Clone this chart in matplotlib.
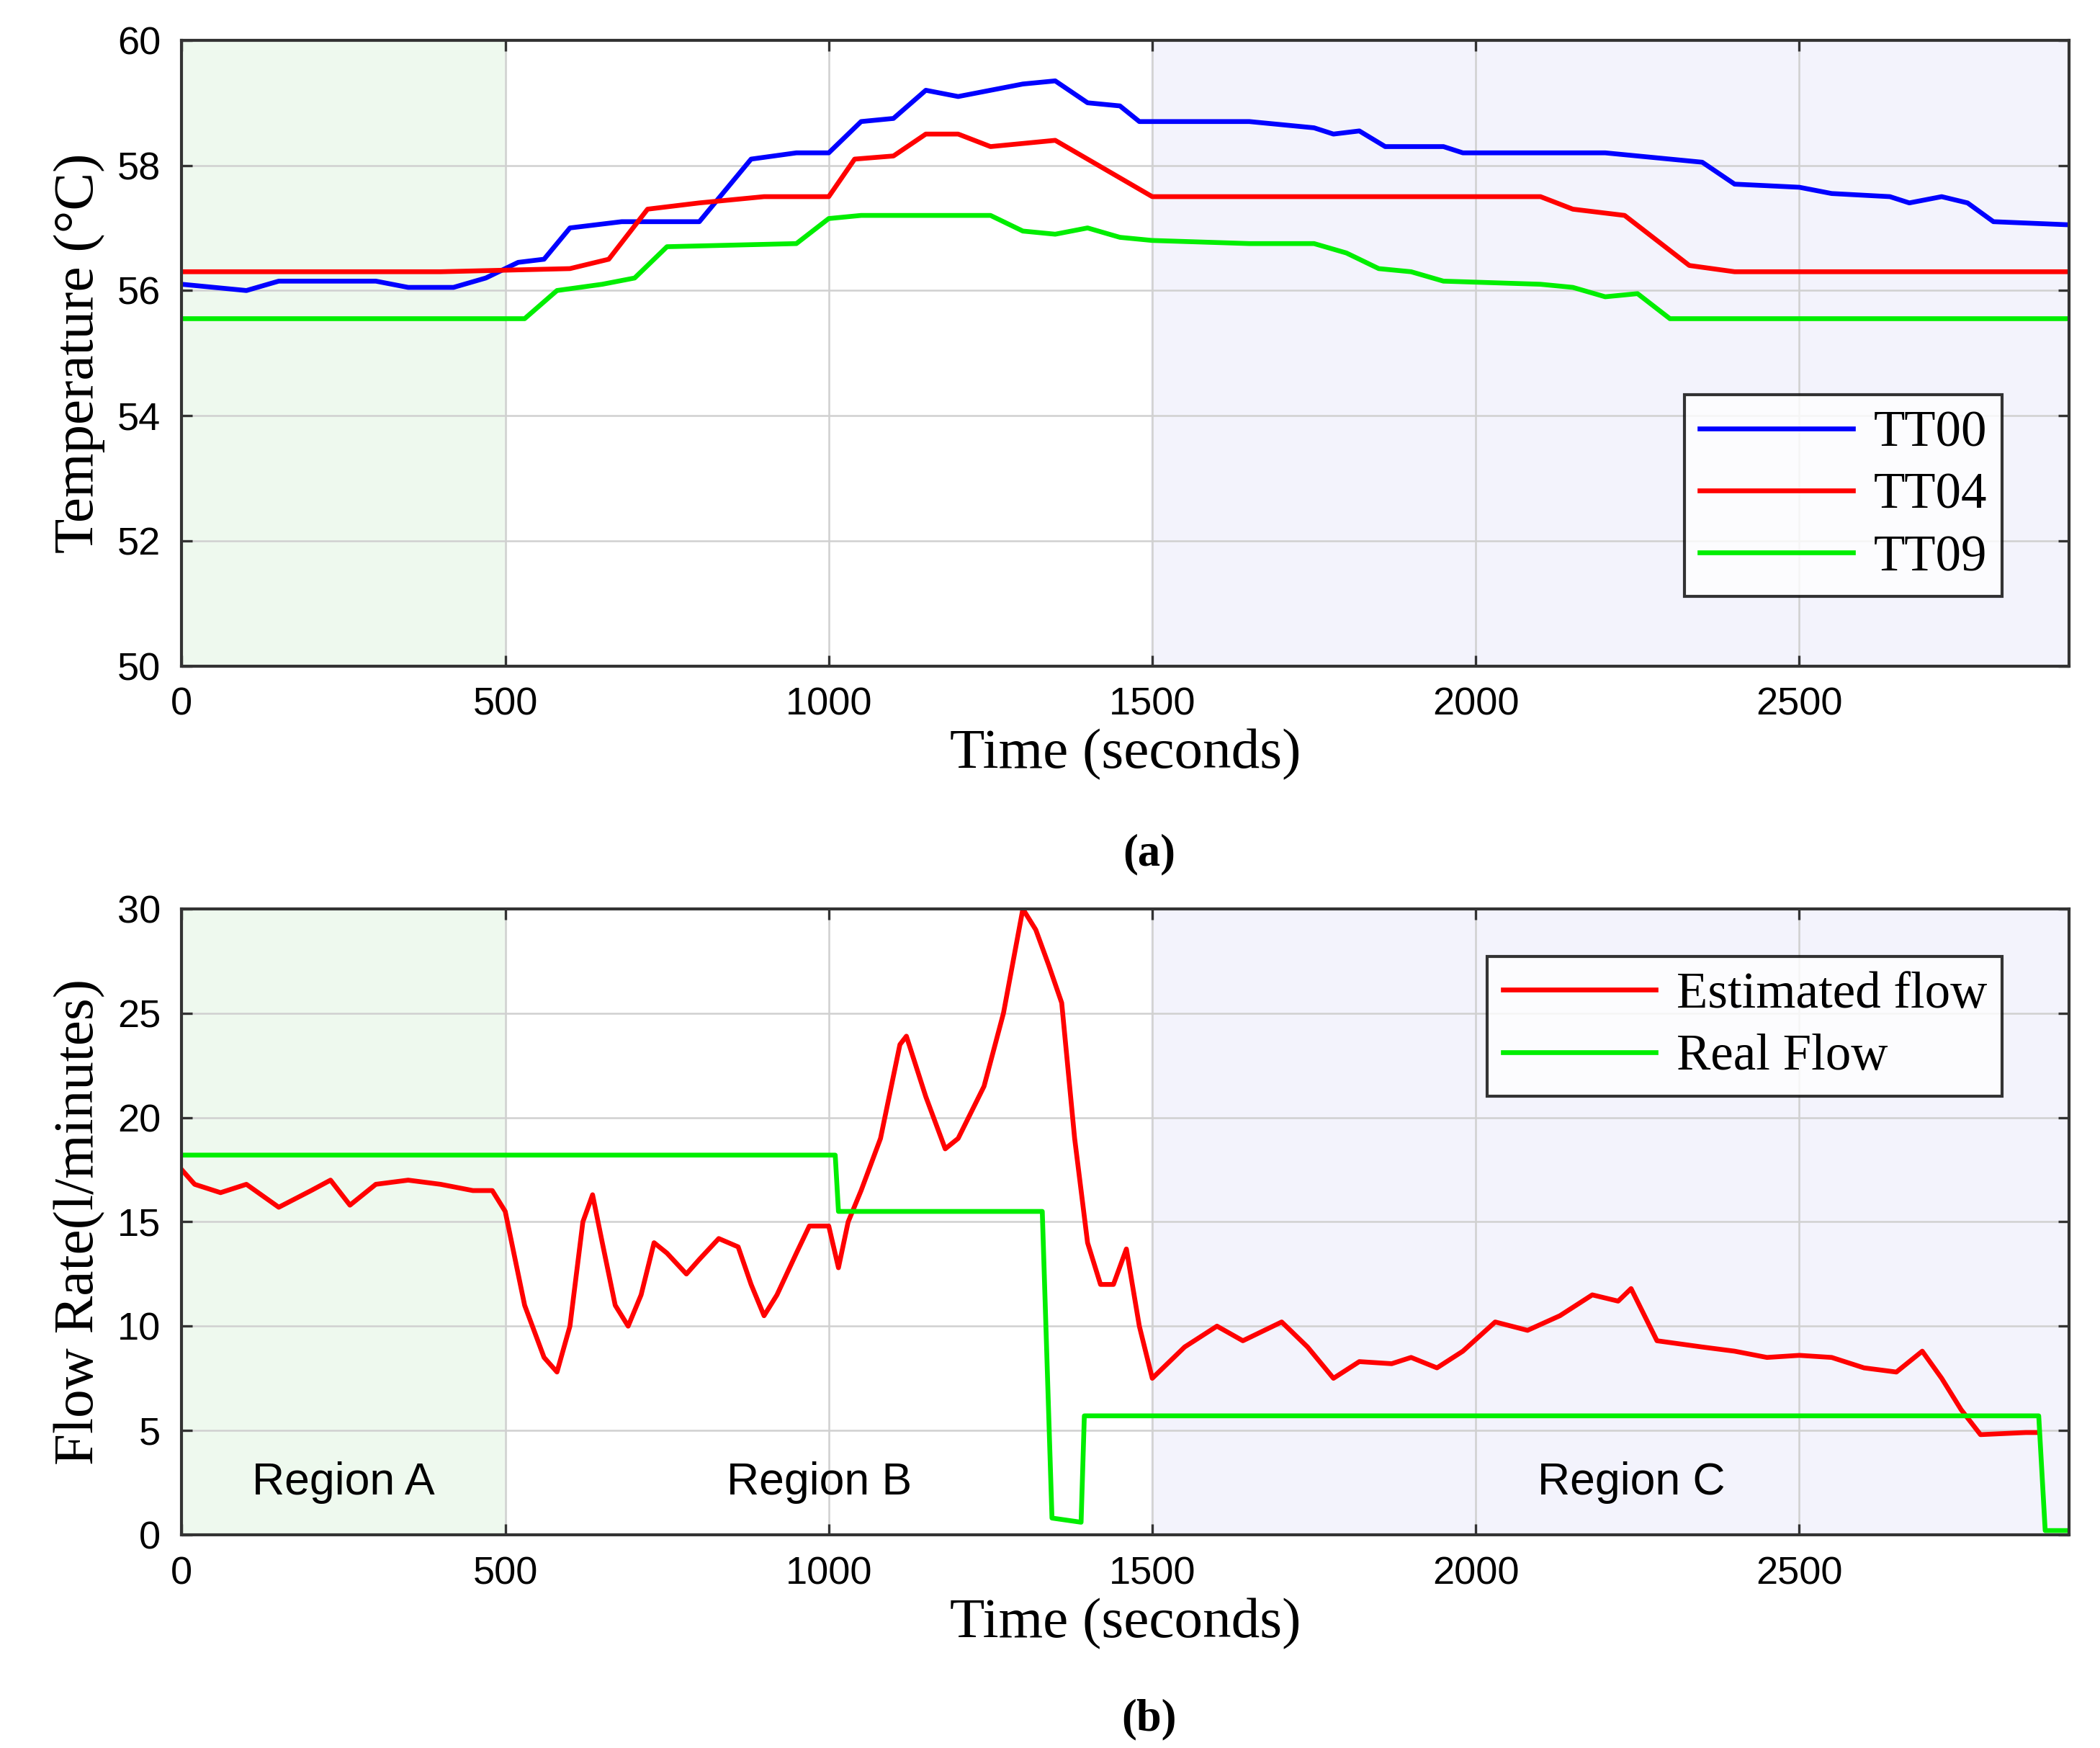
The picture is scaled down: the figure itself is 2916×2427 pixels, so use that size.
import matplotlib
matplotlib.use("Agg")
import matplotlib.pyplot as plt
import numpy as np

tt00_t = [0,100,150,300,350,420,470,520,560,600,680,800,880,950,1000,1050,1100,1150,1200,1250,1300,1350,1400,1450,1480,1650,1750,1780,1820,1860,1950,1980,2200,2250,2300,2350,2400,2500,2550,2640,2670,2720,2760,2800,2917]
tt00_v = [56.1,56.0,56.15,56.15,56.05,56.05,56.2,56.45,56.5,57.0,57.1,57.1,58.1,58.2,58.2,58.7,58.75,59.2,59.1,59.2,59.3,59.35,59.0,58.95,58.7,58.7,58.6,58.5,58.55,58.3,58.3,58.2,58.2,58.15,58.1,58.05,57.7,57.65,57.55,57.5,57.4,57.5,57.4,57.1,57.05]
tt04_t = [0,400,600,660,720,800,900,1000,1040,1100,1150,1200,1250,1300,1350,1400,1450,1500,2100,2150,2230,2280,2330,2400,2917]
tt04_v = [56.3,56.3,56.35,56.5,57.3,57.4,57.5,57.5,58.1,58.15,58.5,58.5,58.3,58.35,58.4,58.1,57.8,57.5,57.5,57.3,57.2,56.8,56.4,56.3,56.3]
tt09_t = [0,530,580,650,700,750,950,1000,1050,1150,1250,1300,1350,1400,1450,1500,1650,1750,1800,1850,1900,1950,2100,2150,2200,2250,2300,2917]
tt09_v = [55.55,55.55,56.0,56.1,56.2,56.7,56.75,57.15,57.2,57.2,57.2,56.95,56.9,57.0,56.85,56.8,56.75,56.75,56.6,56.35,56.3,56.15,56.1,56.05,55.9,55.95,55.55,55.55]

est_t = [0,20,60,100,150,200,230,260,300,350,400,450,480,500,530,560,580,600,620,635,650,670,690,710,730,750,780,800,830,860,880,900,920,950,970,1000,1015,1030,1050,1080,1110,1120,1150,1180,1200,1240,1270,1300,1320,1340,1360,1380,1400,1420,1440,1460,1480,1500,1550,1600,1640,1700,1740,1780,1820,1870,1900,1940,1980,2030,2080,2130,2180,2220,2240,2280,2350,2400,2450,2500,2550,2600,2650,2690,2720,2750,2780,2850,2870]
est_v = [17.5,16.8,16.4,16.8,15.7,16.5,17.0,15.8,16.8,17.0,16.8,16.5,16.5,15.5,11,8.5,7.8,10,15,16.3,14,11,10,11.5,14,13.5,12.5,13.2,14.2,13.8,12,10.5,11.5,13.5,14.8,14.8,12.8,15,16.5,19,23.5,23.9,21,18.5,19,21.5,25,30,29,27.3,25.5,19,14,12,12,13.7,10,7.5,9,10,9.3,10.2,9,7.5,8.3,8.2,8.5,8,8.8,10.2,9.8,10.5,11.5,11.2,11.8,9.3,9.0,8.8,8.5,8.6,8.5,8.0,7.8,8.8,7.5,6.0,4.8,4.9,4.9]
real_t = [0,1010,1015,1330,1345,1390,1395,2870,2880,2917]
real_v = [18.2,18.2,15.5,15.5,0.8,0.6,5.7,5.7,0.2,0.2]

serif = "Liberation Serif"
sans = "Liberation Sans"
fig = plt.figure(figsize=(9.723, 8.09), dpi=300)
ax1 = fig.add_axes([0.0865, 0.619, 0.8985, 0.358])
ax2 = fig.add_axes([0.0865, 0.122, 0.8985, 0.358])

for ax in (ax1, ax2):
    ax.axvspan(0, 500, color="#eef9ee", zorder=0)
    ax.axvspan(1500, 2917, color="#f3f3fc", zorder=0)
    ax.set_xlim(0, 2917)
    ax.set_xticks([0,500,1000,1500,2000,2500])
    ax.grid(True, color="#d0d0d0", lw=0.6)
    ax.set_axisbelow(True)
    ax.tick_params(direction="in", top=True, right=True, labelsize=13, color="#333333", pad=7)
    for l in ax.get_xticklabels()+ax.get_yticklabels():
        l.set_fontfamily(sans)
    for s in ax.spines.values():
        s.set_color("#333333"); s.set_linewidth(1.0)
    ax.set_xlabel("Time (seconds)", fontfamily=serif, fontsize=19, labelpad=2)

ax1.plot(tt00_t, tt00_v, color="#0000ff", lw=1.6, label="TT00")
ax1.plot(tt04_t, tt04_v, color="#ff0000", lw=1.6, label="TT04")
ax1.plot(tt09_t, tt09_v, color="#00ee00", lw=1.6, label="TT09")
ax1.set_ylim(50, 60)
ax1.set_yticks(range(50, 61, 2))
ax1.set_ylabel("Temperature (°C)", fontfamily=serif, fontsize=19, labelpad=4)
leg = ax1.legend(loc="lower right", prop={"family": serif, "size": 17}, fancybox=False,
                 edgecolor="black", handlelength=3, handletextpad=0.4, borderpad=0.3,
                 labelspacing=0.3, bbox_to_anchor=(0.978, 0.07))
leg.get_frame().set_linewidth(1.0)

ax2.plot(est_t, est_v, color="#ff0000", lw=1.6, label="Estimated flow")
ax2.plot(real_t, real_v, color="#00ee00", lw=1.6, label="Real Flow")
ax2.set_ylim(0, 30)
ax2.set_yticks(range(0, 31, 5))
ax2.set_ylabel("Flow Rate(l/minutes)", fontfamily=serif, fontsize=19, labelpad=4)
leg = ax2.legend(loc="upper right", prop={"family": serif, "size": 17}, fancybox=False,
                 edgecolor="black", handlelength=3, handletextpad=0.4, borderpad=0.3,
                 labelspacing=0.3, bbox_to_anchor=(0.978, 0.965))
leg.get_frame().set_linewidth(1.0)
for x, t in [(250, "Region A"), (985, "Region B"), (2240, "Region C")]:
    ax2.text(x, 2.5, t, ha="center", va="center", fontfamily=sans, fontsize=15)

fig.text(0.547, 0.505, "(a)", ha="center", fontfamily=serif, fontweight="bold", fontsize=15)
fig.text(0.547, 0.010, "(b)", ha="center", fontfamily=serif, fontweight="bold", fontsize=15)
fig.savefig("out.png", dpi=300, facecolor="white")
